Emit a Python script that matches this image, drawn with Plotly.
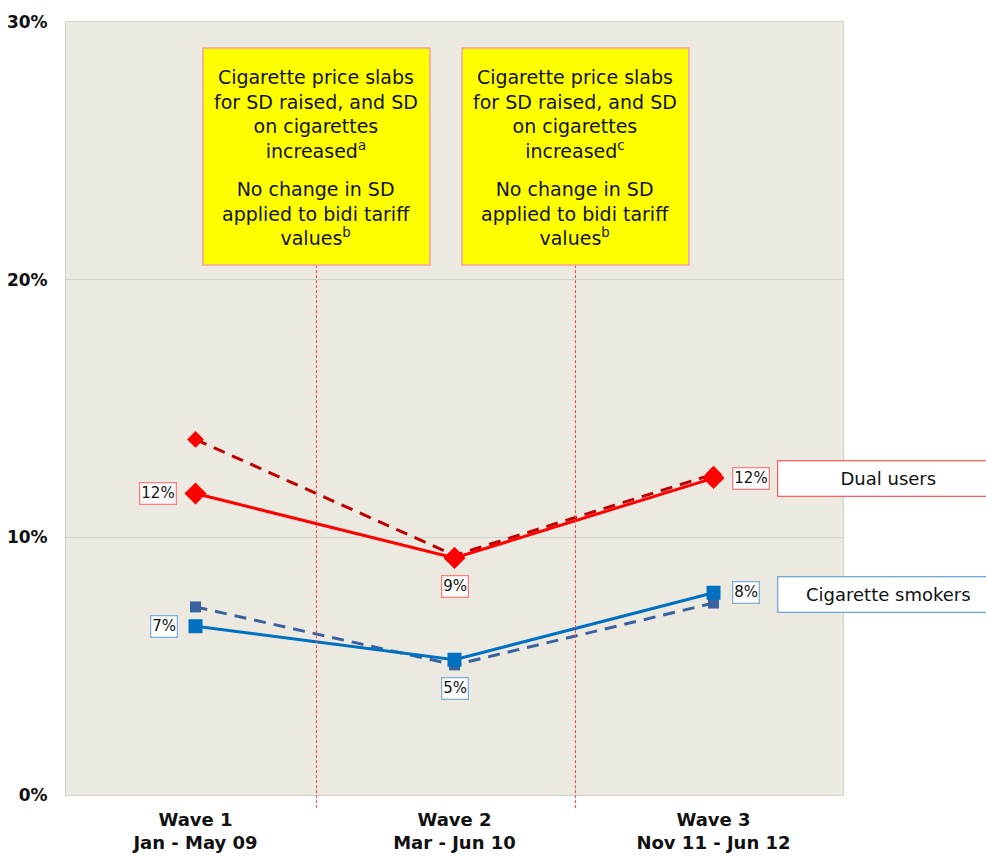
import plotly.graph_objects as go

waves = ["Wave 1<br>Jan - May 09", "Wave 2<br>Mar - Jun 10", "Wave 3<br>Nov 11 - Jun 12"]

dual_users = [11.7, 9.2, 12.3]
dual_users_adj = [13.8, 9.3, 12.45]
cig_smokers = [6.55, 5.25, 7.85]
cig_smokers_adj = [7.3, 5.05, 7.45]

y_ticks = [0, 10, 20, 30]
y_tick_labels = ["0%", "10%", "20%", "30%"]

box_text_top = [
    "Cigarette price slabs<br>for SD raised, and SD<br>on cigarettes<br>increased<sup>a</sup>",
    "Cigarette price slabs<br>for SD raised, and SD<br>on cigarettes<br>increased<sup>c</sup>",
]
box_text_bottom = [
    "No change in SD<br>applied to bidi tariff<br>values<sup>b</sup>",
    "No change in SD<br>applied to bidi tariff<br>values<sup>b</sup>",
]

RED = "#FF0000"
DARK_RED = "#C00000"
BLUE = "#0070C0"
STEEL = "#3A62A0"
FONT = "DejaVu Sans"

fig = go.Figure()

fig.add_trace(go.Scatter(x=waves, y=dual_users_adj, mode="lines+markers",
                         line=dict(color=DARK_RED, width=3, dash="12px,8px"),
                         marker=dict(symbol="diamond", size=13, color=RED),
                         showlegend=False))
fig.add_trace(go.Scatter(x=waves, y=cig_smokers_adj, mode="lines+markers",
                         line=dict(color=STEEL, width=3, dash="12px,8px"),
                         marker=dict(symbol="square", size=11, color=STEEL),
                         showlegend=False))
fig.add_trace(go.Scatter(x=waves, y=dual_users, mode="lines+markers",
                         line=dict(color=RED, width=3),
                         marker=dict(symbol="diamond", size=17, color=RED),
                         showlegend=False))
fig.add_trace(go.Scatter(x=waves, y=cig_smokers, mode="lines+markers",
                         line=dict(color=BLUE, width=3),
                         marker=dict(symbol="square", size=14, color=BLUE),
                         showlegend=False))

# value labels around the solid series
label_offsets = [(-38, 0), (0, -29), (37, 0)]
label_offsets_blue = [(-32, 0), (0, -29), (32, 0)]
for vals, border, offs in [(dual_users, "#FF7C80", label_offsets),
                           (cig_smokers, "#7FB0DA", label_offsets_blue)]:
    for i, v in enumerate(vals):
        fig.add_annotation(x=waves[i], y=v, xref="x", yref="y",
                           text=f"{round(v)}%", showarrow=False,
                           xshift=offs[i][0], yshift=offs[i][1],
                           font=dict(family=FONT, size=15, color="#111111"),
                           bgcolor="white", bordercolor=border, borderwidth=1.3,
                           borderpad=1)

# policy-change boxes and dotted divider lines
box_centers = [0.467, 1.467]
for k, cx in enumerate(box_centers):
    fig.add_shape(type="line", xref="x", yref="paper", x0=cx, x1=cx, y0=-0.017, y1=0.686,
                  line=dict(color="#FF4040", width=1, dash="3px,2px"), layer="above")
    fig.add_shape(type="rect", xref="x", yref="y", x0=cx - 0.438, x1=cx + 0.438,
                  y0=20.57, y1=28.99, fillcolor="#FFFF00",
                  line=dict(color="#F4A0A0", width=1.5))
    fig.add_annotation(x=cx, y=26.44, xref="x", yref="y", text=box_text_top[k],
                       showarrow=False, font=dict(family=FONT, size=19, color="#111111"))
    fig.add_annotation(x=cx, y=22.58, xref="x", yref="y", text=box_text_bottom[k],
                       showarrow=False, font=dict(family=FONT, size=19, color="#111111"))

# series name boxes on the right
for name, yv, border in [("Dual users", 12.3, "#FF6060"),
                         ("Cigarette smokers", 7.8, "#6FA8DC")]:
    fig.add_annotation(x=1.059, y=yv, xref="paper", yref="y", text=name,
                       xanchor="center", yanchor="middle",
                       showarrow=False, width=218, height=32,
                       font=dict(family=FONT, size=18, color="#111111"),
                       bgcolor="white", bordercolor=border, borderwidth=1.3)

fig.update_layout(
    width=986, height=856,
    margin=dict(l=66, r=143, t=22, b=61),
    paper_bgcolor="white", plot_bgcolor="#ECE9E0",
    font=dict(family=FONT),
    showlegend=False,
)
fig.update_xaxes(type="category", range=[-0.5, 2.5], showgrid=False, zeroline=False,
                 showline=True, mirror=True, linecolor="#D6D3CA", linewidth=1,
                 automargin=False,
                 ticks="outside", ticklen=8, tickcolor="rgba(0,0,0,0)",
                 tickfont=dict(family=FONT, size=18, color="#111111", weight="bold"))
fig.update_yaxes(range=[0, 30], tickvals=y_ticks, ticktext=y_tick_labels,
                 showgrid=True, gridcolor="#D6D3CA", gridwidth=1, zeroline=False,
                 showline=True, mirror=True, linecolor="#D6D3CA", linewidth=1,
                 automargin=False,
                 ticks="outside", ticklen=14, tickcolor="rgba(0,0,0,0)",
                 tickfont=dict(family=FONT, size=17, color="#111111", weight="bold"))

fig.write_html("out.html")
